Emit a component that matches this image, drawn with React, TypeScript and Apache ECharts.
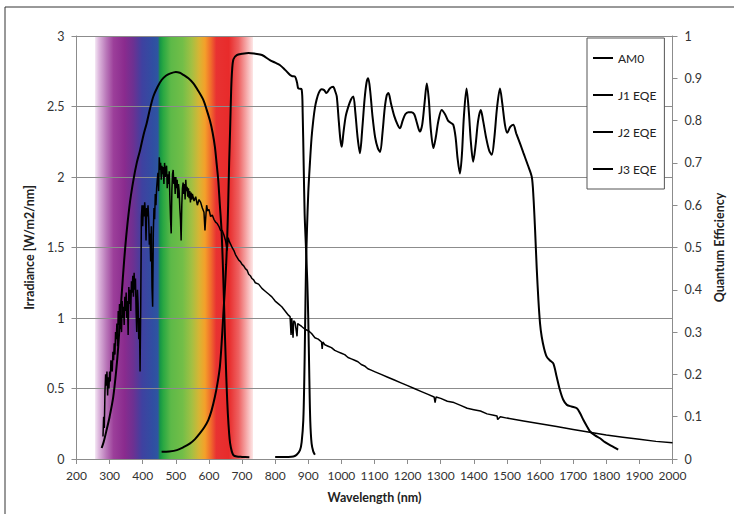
import React, { useEffect, useRef } from "react";
import * as echarts from "echarts";

// AM0 solar spectrum (nm, W/m2/nm)
const am0Nm = [
  280, 282, 284, 286, 288, 290, 292, 294, 296, 298, 300, 302, 304, 306, 308, 310, 312, 314, 316, 318,
  320, 322, 324, 326, 328, 330, 332, 334, 336, 338, 340, 342, 344, 346, 348, 350, 352, 354, 356, 358,
  360, 362, 364, 366, 368, 370, 372, 374, 376, 378, 380, 382, 384, 386, 388, 390, 392, 394, 396, 398,
  400, 402, 404, 406, 408, 410, 412, 414, 416, 418, 420, 422, 424, 426, 428, 430, 432, 434, 436, 438,
  440, 442, 444, 446, 448, 450, 452, 454, 456, 458, 460, 462, 464, 466, 468, 470, 472, 474, 476, 478,
  480, 482, 484, 486, 488, 490, 492, 494, 496, 498, 500, 502, 504, 506, 508, 510, 512, 514, 516, 518,
  520, 522, 524, 526, 528, 530, 532, 534, 536, 538, 540, 542, 544, 546, 548, 550, 555, 560, 565, 570,
  575, 580, 585, 588, 590, 593, 596, 600, 605, 610, 615, 620, 625, 630, 635, 640, 645, 650, 655, 658,
  662, 666, 670, 675, 680, 685, 690, 695, 700, 705, 710, 715, 720, 725, 730, 735, 740, 750, 760, 770,
  780, 790, 800, 810, 820, 830, 840, 845, 848, 850, 854, 856, 860, 866, 868, 880, 890, 900, 910, 920,
  930, 940, 942, 944, 950, 960, 970, 980, 990, 1000, 1010, 1020, 1030, 1040, 1050, 1060, 1070, 1080, 1090, 1100,
  1120, 1140, 1160, 1180, 1200, 1220, 1240, 1260, 1280, 1283, 1286, 1300, 1320, 1340, 1360, 1380, 1400, 1420, 1440, 1460,
  1470, 1472, 1480, 1500, 1550, 1600, 1650, 1700, 1750, 1800, 1850, 1900, 1950, 2000,
];
const am0Irradiance = [
  0.16, 0.3, 0.22, 0.48, 0.6, 0.52, 0.62, 0.45, 0.58, 0.5, 0.62, 0.55, 0.7, 0.66, 0.62, 0.76, 0.7, 0.82, 0.74, 0.9,
  0.85, 0.96, 0.8, 1.05, 0.95, 1.1, 0.92, 1.02, 0.9, 1.12, 1.0, 1.08, 0.95, 1.15, 1.05, 1.18, 1.0, 1.12, 0.88, 1.22,
  1.1, 1.2, 1.05, 1.26, 1.18, 1.3, 1.15, 1.32, 1.2, 1.28, 1.05, 0.9, 1.2, 1.1, 0.85, 1.0, 0.62, 1.1, 1.72, 1.8,
  1.65, 1.8, 1.72, 1.82, 1.75, 1.55, 1.78, 1.72, 1.8, 1.7, 1.52, 1.6, 1.4, 1.65, 1.22, 1.08, 1.6, 1.78, 1.7, 1.88,
  1.8, 1.92, 1.98, 2.03, 1.9, 2.14, 2.05, 2.1, 1.98, 2.08, 2.02, 2.07, 1.95, 2.1, 2.0, 2.05, 2.08, 1.92, 2.02, 1.95,
  2.04, 1.85, 1.7, 1.6, 1.9, 2.02, 2.05, 1.95, 2.0, 1.88, 2.0, 1.92, 1.98, 1.85, 1.95, 1.9, 1.78, 1.7, 1.55, 1.8,
  1.92, 1.96, 1.88, 1.95, 1.84, 1.98, 1.9, 1.93, 1.86, 1.92, 1.85, 1.9, 1.82, 1.89, 1.84, 1.88, 1.83, 1.86, 1.8, 1.84,
  1.82, 1.78, 1.75, 1.62, 1.7, 1.8, 1.76, 1.77, 1.72, 1.73, 1.7, 1.68, 1.67, 1.65, 1.62, 1.62, 1.59, 1.55, 1.48, 1.57,
  1.54, 1.52, 1.5, 1.48, 1.45, 1.43, 1.41, 1.4, 1.38, 1.37, 1.35, 1.34, 1.31, 1.3, 1.28, 1.27, 1.25, 1.24, 1.21, 1.19,
  1.17, 1.15, 1.12, 1.1, 1.08, 1.05, 1.02, 1.01, 0.88, 1.0, 0.86, 0.98, 0.97, 0.87, 0.96, 0.94, 0.92, 0.91, 0.89, 0.86,
  0.85, 0.83, 0.78, 0.83, 0.81, 0.8, 0.79, 0.77, 0.76, 0.75, 0.74, 0.72, 0.71, 0.7, 0.69, 0.67, 0.66, 0.64, 0.63, 0.62,
  0.6, 0.58, 0.56, 0.54, 0.52, 0.5, 0.48, 0.46, 0.44, 0.4, 0.44, 0.43, 0.41, 0.4, 0.38, 0.36, 0.35, 0.34, 0.32, 0.31,
  0.305, 0.28, 0.3, 0.29, 0.27, 0.25, 0.23, 0.21, 0.19, 0.17, 0.155, 0.14, 0.125, 0.115,
];

// Junction 1 EQE
const j1Nm = [
  276, 282, 291, 300, 311, 320, 326, 336, 344, 352, 362, 372, 382, 392, 402, 412, 422, 432, 445, 457,
  470, 482, 500, 512, 523, 538, 553, 568, 583, 593, 603, 611, 618, 623, 628, 633, 638, 642, 645, 648,
  651, 654, 657, 661, 664, 669, 674, 684, 700, 722,
];
const j1Eqe = [
  0.026, 0.04, 0.069, 0.1, 0.147, 0.21, 0.265, 0.384, 0.47, 0.541, 0.61, 0.66, 0.7, 0.73, 0.765, 0.794, 0.828, 0.857, 0.88, 0.896,
  0.906, 0.911, 0.915, 0.913, 0.908, 0.9, 0.888, 0.87, 0.849, 0.826, 0.8, 0.772, 0.738, 0.7, 0.66, 0.6, 0.541, 0.46, 0.384, 0.3,
  0.227, 0.16, 0.108, 0.06, 0.037, 0.018, 0.009, 0.006, 0.005, 0.004,
];

// Junction 2 EQE
const j2Nm = [
  457, 480, 503, 523, 543, 558, 573, 586, 598, 608, 618, 626, 633, 638, 643, 646, 649, 652, 655, 658,
  661, 664, 667, 670, 674, 684, 700, 720, 740, 760, 784, 800, 815, 830, 845, 852, 860, 866, 870, 880,
  883, 886, 889, 893, 897, 900, 903, 906, 910, 915, 920,
];
const j2Eqe = [
  0.017, 0.018, 0.021, 0.028, 0.037, 0.047, 0.061, 0.075, 0.092, 0.115, 0.147, 0.18, 0.218, 0.27, 0.336, 0.375, 0.414, 0.46, 0.52, 0.6,
  0.7, 0.78, 0.87, 0.92, 0.945, 0.955, 0.958, 0.96, 0.958, 0.955, 0.943, 0.937, 0.931, 0.92, 0.908, 0.905, 0.904, 0.89, 0.876, 0.874,
  0.82, 0.7, 0.58, 0.5, 0.42, 0.33, 0.2, 0.09, 0.037, 0.018, 0.01,
];

// Junction 3 EQE
const j3Nm = [
  800, 820, 840, 855, 865, 875, 880, 885, 888, 890, 893, 896, 900, 905, 910, 915, 920, 925, 932, 940,
  948, 955, 965, 975, 981, 986, 992, 997, 1001, 1006, 1013, 1021, 1029, 1036, 1042, 1049, 1056, 1063, 1070, 1076,
  1081, 1087, 1094, 1102, 1110, 1117, 1124, 1131, 1137, 1142, 1150, 1160, 1170, 1177, 1185, 1193, 1202, 1212, 1220, 1228,
  1237, 1244, 1251, 1258, 1264, 1270, 1278, 1285, 1293, 1303, 1313, 1322, 1330, 1338, 1345, 1351, 1358, 1364, 1370, 1378,
  1385, 1391, 1398, 1405, 1413, 1421, 1428, 1437, 1446, 1454, 1462, 1470, 1479, 1486, 1494, 1501, 1510, 1519, 1528, 1540,
  1550, 1563, 1575, 1580, 1585, 1590, 1595, 1600, 1605, 1612, 1620, 1630, 1640, 1650, 1660, 1670, 1681, 1695, 1711, 1721,
  1731, 1741, 1751, 1766, 1781, 1796, 1811, 1825, 1836,
];
const j3Eqe = [
  0.005, 0.005, 0.005, 0.006, 0.01, 0.021, 0.04, 0.092, 0.19, 0.29, 0.447, 0.54, 0.63, 0.7, 0.76, 0.8, 0.83, 0.849, 0.866, 0.874,
  0.872, 0.865, 0.876, 0.88, 0.87, 0.857, 0.8, 0.755, 0.738, 0.77, 0.81, 0.833, 0.85, 0.857, 0.82, 0.76, 0.723, 0.78, 0.85, 0.89,
  0.9, 0.87, 0.81, 0.76, 0.735, 0.726, 0.77, 0.83, 0.86, 0.865, 0.84, 0.81, 0.79, 0.782, 0.8, 0.815, 0.82, 0.82, 0.815, 0.795,
  0.774, 0.79, 0.84, 0.888, 0.85, 0.78, 0.735, 0.76, 0.8, 0.825, 0.815, 0.8, 0.795, 0.79, 0.76, 0.71, 0.675, 0.72, 0.81, 0.876,
  0.82, 0.75, 0.703, 0.74, 0.8, 0.825, 0.8, 0.76, 0.73, 0.719, 0.76, 0.83, 0.876, 0.84, 0.79, 0.771, 0.785, 0.79, 0.77, 0.745,
  0.723, 0.695, 0.667, 0.62, 0.541, 0.45, 0.376, 0.32, 0.289, 0.262, 0.242, 0.233, 0.226, 0.195, 0.163, 0.14, 0.128, 0.124, 0.12, 0.108,
  0.092, 0.078, 0.065, 0.056, 0.049, 0.04, 0.033, 0.027, 0.022,
];

// Visible spectrum band (nm)
const bandRange = [256, 733];
const bandStops: [number, string][] = [
  [256, "#f4e6f4"],
  [268, "#dcb6dc"],
  [290, "#b977b9"],
  [312, "#9c3f9a"],
  [345, "#8a2b8e"],
  [372, "#6c3192"],
  [398, "#3f41a0"],
  [430, "#304ea2"],
  [446, "#2e56a0"],
  [452, "#159646"],
  [462, "#2aa842"],
  [485, "#5db948"],
  [520, "#72be48"],
  [548, "#a3c043"],
  [570, "#d7b534"],
  [588, "#f4a02a"],
  [606, "#f06a2c"],
  [622, "#e83232"],
  [660, "#e82b2b"],
  [690, "#ee6262"],
  [712, "#f5a6a6"],
  [733, "#fde6e6"],
];

const legendNames = ["AM0", "J1 EQE", "J2 EQE", "J3 EQE"];
const FONT = "Lato, 'Open Sans', sans-serif";

const zip = (a: number[], b: number[]) => a.map((v, i) => [v, b[i]]);

export default function App() {
  const ref = useRef<HTMLDivElement>(null);
  useEffect(() => {
    const chart = echarts.init(ref.current!, null, { renderer: "svg" });
    const span = bandRange[1] - bandRange[0];
    const gradient = new echarts.graphic.LinearGradient(
      0, 0, 1, 0,
      bandStops.map(([nm, c]) => ({ offset: (nm - bandRange[0]) / span, color: c }))
    );
    const labelStyle = { color: "#333", fontSize: 12, fontFamily: FONT };
    const nameStyle = { color: "#222", fontSize: 12.5, fontWeight: "bold" as const, fontFamily: FONT };
    chart.setOption({
      animation: false,
      backgroundColor: "#fff",
      textStyle: { fontFamily: FONT },
      graphic: [
        {
          type: "rect",
          shape: { x: 5, y: 7, width: 800, height: 600 },
          style: { fill: "none", stroke: "#333", lineWidth: 1 },
          silent: true,
          z: -10,
        },
      ],
      grid: { left: 76.5, right: 61.5, top: 36, bottom: 55, containLabel: false },
      legend: {
        data: legendNames.map((n) => ({ name: n, icon: "rect" })),
        orient: "vertical",
        left: 587,
        top: 38,
        itemWidth: 20,
        itemHeight: 2,
        itemGap: 23,
        padding: [13, 8, 13, 6],
        backgroundColor: "#fff",
        borderColor: "#555",
        borderWidth: 1,
        itemStyle: { color: "#000", borderWidth: 0 },
        textStyle: { fontSize: 12, color: "#222", fontFamily: FONT, lineHeight: 14 },
        z: 10,
      },
      xAxis: {
        type: "value",
        min: 200,
        max: 2000,
        interval: 100,
        z: 1,
        name: "Wavelength (nm)",
        nameLocation: "middle",
        nameGap: 32,
        nameTextStyle: nameStyle,
        axisLine: { show: true, lineStyle: { color: "#8c8c8c", width: 1 } },
        axisTick: { show: true, length: 5, lineStyle: { color: "#8c8c8c" } },
        axisLabel: { ...labelStyle, margin: 10, interval: 0, formatter: (v: number) => String(v) },
        splitLine: { show: false },
      },
      yAxis: [
        {
          type: "value",
          min: 0,
          max: 3,
          interval: 0.5,
          z: 1,
          name: "Irradiance [W/m2/nm]",
          nameLocation: "middle",
          nameRotate: 90,
          nameGap: 38,
          nameTextStyle: nameStyle,
          axisLine: { show: true, lineStyle: { color: "#8c8c8c", width: 1 } },
          axisTick: { show: true, length: 5, lineStyle: { color: "#8c8c8c" } },
          axisLabel: { ...labelStyle, fontSize: 12.5, margin: 12 },
          splitLine: { show: true, lineStyle: { color: "#8c8c8c", width: 1 } },
        },
        {
          type: "value",
          min: 0,
          max: 1,
          interval: 0.1,
          z: 1,
          position: "right",
          name: "Quantum Efficiency",
          nameLocation: "middle",
          nameRotate: 90,
          nameGap: 40,
          nameTextStyle: nameStyle,
          axisLine: { show: true, lineStyle: { color: "#8c8c8c", width: 1 } },
          axisTick: { show: true, length: 5, lineStyle: { color: "#8c8c8c" } },
          axisLabel: { ...labelStyle, fontSize: 12.5, margin: 12 },
          splitLine: { show: false },
        },
      ],
      series: [
        {
          name: "band",
          type: "line",
          data: [],
          xAxisIndex: 0,
          yAxisIndex: 0,
          silent: true,
          z: 0,
          markArea: {
            silent: true,
            z: 0,
            itemStyle: { color: gradient, borderWidth: 0 },
            data: [[{ xAxis: bandRange[0], yAxis: 0 }, { xAxis: bandRange[1], yAxis: 3 }]],
          },
        },
        {
          name: "AM0",
          type: "line",
          yAxisIndex: 0,
          data: zip(am0Nm, am0Irradiance),
          showSymbol: false,
          symbol: "none",
          lineStyle: { color: "#000", width: 1.5 },
          itemStyle: { color: "#000" },
          z: 3,
        },
        {
          name: "J1 EQE",
          type: "line",
          yAxisIndex: 1,
          data: zip(j1Nm, j1Eqe),
          smooth: 0.3,
          symbol: "none",
          lineStyle: { color: "#000", width: 2 },
          itemStyle: { color: "#000" },
          z: 3,
        },
        {
          name: "J2 EQE",
          type: "line",
          yAxisIndex: 1,
          data: zip(j2Nm, j2Eqe),
          smooth: 0.3,
          symbol: "none",
          lineStyle: { color: "#000", width: 2 },
          itemStyle: { color: "#000" },
          z: 3,
        },
        {
          name: "J3 EQE",
          type: "line",
          yAxisIndex: 1,
          data: zip(j3Nm, j3Eqe),
          smooth: 0.3,
          symbol: "none",
          lineStyle: { color: "#000", width: 2 },
          itemStyle: { color: "#000" },
          z: 3,
        },
      ],
    });
    return () => chart.dispose();
  }, []);
  return (
    <div
      ref={ref}
      style={{ position: "fixed", left: 0, top: 0, width: 734, height: 514, background: "#fff" }}
    />
  );
}
